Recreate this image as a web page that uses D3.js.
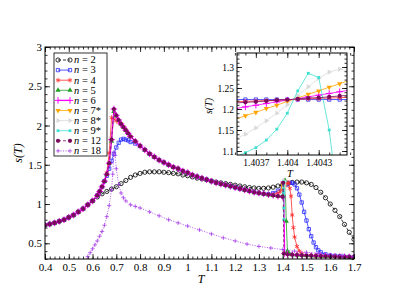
<!DOCTYPE html>
<html>
<head>
<meta charset="utf-8">
<script src="https://cdn.jsdelivr.net/npm/d3@7"></script>
<style>
  body { margin: 0; background: #fff; }
  svg text { font-family: "Liberation Serif", "Times New Roman", "DejaVu Serif", serif; }
</style>
</head>
<body>
<script>
//! CONSTS
const WIDTH = 399
const HEIGHT = 308
const FONT = '"Liberation Serif", "Times New Roman", "DejaVu Serif", serif'

//! DATA
const LOW_BRANCH = [[0.40,0.73],[0.42,0.745],[0.44,0.76],[0.46,0.78],[0.48,0.80],[0.50,0.83],[0.52,0.86],
  [0.54,0.90],[0.56,0.94],[0.58,0.99],[0.60,1.04],[0.62,1.11],[0.63,1.16],[0.64,1.22],[0.65,1.29]];
const HIGH_EARLY = [[0.72,2.02],[0.73,1.98],[0.74,1.94],[0.75,1.90],[0.76,1.86],[0.78,1.80],[0.80,1.74]];
const HIGH_BRANCH = [[0.82,1.69],[0.84,1.64],[0.86,1.60],[0.88,1.56],[0.90,1.53],[0.92,1.50],[0.94,1.47],
  [0.96,1.45],[0.98,1.42],[1.00,1.40],[1.02,1.37],[1.04,1.35],[1.06,1.33],[1.08,1.31],[1.10,1.29],
  [1.12,1.27],[1.14,1.255],[1.16,1.24],[1.18,1.225],[1.20,1.21],[1.22,1.195],[1.24,1.18],[1.26,1.165],
  [1.28,1.15],[1.30,1.14],[1.32,1.13]];
const TAIL = [[1.50,0.345],[1.52,0.343],[1.54,0.34],[1.56,0.338],[1.58,0.336],[1.60,0.334],[1.62,0.332],
  [1.64,0.33],[1.66,0.328],[1.68,0.326],[1.70,0.324]];

const N2 = [[0.40,0.73],[0.42,0.745],[0.44,0.76],[0.46,0.78],[0.48,0.80],[0.50,0.83],[0.52,0.86],[0.54,0.90],
  [0.56,0.94],[0.58,0.99],[0.60,1.04],[0.62,1.09],[0.64,1.13],[0.66,1.16],[0.68,1.19],[0.70,1.22],[0.72,1.26],
  [0.74,1.30],[0.76,1.34],[0.78,1.37],[0.80,1.39],[0.82,1.405],[0.84,1.41],[0.86,1.41],[0.88,1.41],[0.90,1.405],
  [0.92,1.40],[0.94,1.39],[0.96,1.385],[0.98,1.37],[1.00,1.36],[1.02,1.345],[1.04,1.33],[1.06,1.32],[1.08,1.31],
  [1.10,1.295],[1.12,1.28],[1.14,1.27],[1.16,1.26],[1.18,1.25],[1.20,1.24],[1.22,1.23],[1.24,1.22],[1.26,1.21],
  [1.28,1.205],[1.30,1.20],[1.32,1.20],[1.34,1.205],[1.36,1.215],[1.38,1.23],[1.40,1.245],[1.42,1.26],
  [1.44,1.275],[1.46,1.28],[1.48,1.28],[1.50,1.27],[1.52,1.25],[1.54,1.21],[1.56,1.15],[1.58,1.08],[1.60,1.00],
  [1.62,0.92],[1.64,0.84],[1.66,0.74],[1.68,0.64],[1.70,0.55]];
const N3 = [...LOW_BRANCH, [0.66,1.36],[0.67,1.45],[0.68,1.55],[0.69,1.64],[0.70,1.72],[0.71,1.78],[0.72,1.82],
  [0.73,1.83],[0.74,1.82],[0.75,1.81],[0.76,1.79],[0.78,1.77],[0.80,1.74], ...HIGH_BRANCH,
  [1.34,1.125],[1.36,1.14],[1.38,1.17],[1.40,1.21],[1.42,1.25],[1.43,1.27],[1.44,1.27],[1.45,1.25],[1.46,1.20],
  [1.47,1.12],[1.48,1.02],[1.49,0.90],[1.50,0.79],[1.51,0.68],[1.52,0.59],[1.53,0.51],[1.54,0.45],[1.55,0.41],
  [1.56,0.385],[1.58,0.36],[1.60,0.345],[1.62,0.34],[1.64,0.335],[1.66,0.33],[1.68,0.328],[1.70,0.325]];
const N4 = [...LOW_BRANCH, [0.66,1.40],[0.67,1.65],[0.68,2.10],[0.69,2.08],[0.70,2.06],[0.71,2.04],
  ...HIGH_EARLY, ...HIGH_BRANCH, [1.34,1.12],[1.36,1.12],[1.38,1.14],[1.39,1.16],[1.40,1.19],[1.41,1.23],
  [1.42,1.27],[1.425,1.27],[1.43,1.20],[1.435,1.10],[1.44,0.86],[1.445,0.70],[1.45,0.58],[1.46,0.46],
  [1.47,0.40],[1.48,0.37], ...TAIL];
const N5 = [...LOW_BRANCH, [0.66,1.38],[0.67,1.52],[0.68,1.80],[0.69,2.18],[0.70,2.12],[0.71,2.07],
  ...HIGH_EARLY, ...HIGH_BRANCH, [1.34,1.12],[1.36,1.11],[1.38,1.10],[1.40,1.11],[1.405,1.20],[1.41,1.30],
  [1.415,0.78],[1.42,0.40],[1.43,0.36],[1.44,0.355],[1.46,0.352],[1.48,0.348], ...TAIL];
const N6 = [...LOW_BRANCH, [0.66,1.38],[0.67,1.52],[0.68,1.82],[0.69,2.21],[0.70,2.13],[0.71,2.07],
  ...HIGH_EARLY, ...HIGH_BRANCH, [1.34,1.12],[1.36,1.11],[1.38,1.10],[1.40,1.09],[1.404,1.28],[1.408,0.37],
  [1.42,0.36],[1.44,0.355],[1.46,0.352],[1.48,0.348], ...TAIL];
const N12 = [...LOW_BRANCH, [0.66,1.38],[0.67,1.52],[0.68,1.82],[0.69,2.21],[0.70,2.13],[0.71,2.07],
  ...HIGH_EARLY, ...HIGH_BRANCH, [1.34,1.12],[1.36,1.11],[1.38,1.10],[1.40,1.09],[1.402,1.27],[1.405,0.37],
  [1.42,0.36],[1.44,0.355],[1.46,0.352],[1.48,0.348], ...TAIL];
const N18 = [[0.57,0.27],[0.58,0.33],[0.59,0.38],[0.60,0.43],[0.61,0.48],[0.62,0.53],[0.63,0.59],[0.64,0.65],
  [0.65,0.73],[0.66,0.84],[0.67,0.98],[0.68,1.18],[0.685,1.38],[0.69,1.66],[0.695,1.62],[0.70,1.45],[0.71,1.25],
  [0.72,1.14],[0.73,1.08],[0.74,1.04],[0.76,0.99],[0.78,0.97],[0.80,0.95],[0.84,0.90],[0.88,0.85],[0.92,0.80],
  [0.96,0.76],[1.00,0.72],[1.05,0.67],[1.10,0.62],[1.15,0.57],[1.20,0.53],[1.25,0.49],[1.30,0.46],[1.35,0.44],
  [1.40,0.42],[1.45,0.40],[1.50,0.385],[1.55,0.37],[1.60,0.355],[1.65,0.345],[1.70,0.33]];

// inset, T close to 1.404
const T_INSET = [1.4035,1.4036,1.4037,1.4038,1.4039,1.4040,1.4041,1.4042,1.4043,1.4044,1.4045,1.4046];
const INSET_N3 = [1.2225,1.2225,1.2225,1.2225,1.2225,1.2225,1.2225,1.2225,1.2225,1.2225,1.2225,1.2225];
const INSET_N4 = [1.217,1.218,1.219,1.220,1.221,1.222,1.223,1.224,1.225,1.226,1.227,1.228];
const INSET_N6 = [1.201,1.205,1.209,1.213,1.217,1.221,1.225,1.229,1.233,1.237,1.241,1.245];
const INSET_N7 = [1.175,1.184,1.192,1.201,1.209,1.218,1.226,1.235,1.243,1.252,1.260,1.269];
const INSET_N8 = [1.128,1.140,1.155,1.172,1.190,1.210,1.232,1.253,1.273,1.288,1.295,1.290];
const INSET_N9 = [1.085,1.096,1.108,1.126,1.152,1.190,1.243,1.285,1.275,1.150,0.950,0.800];
const INSET_N12 = [1.214,1.216,1.217,1.219,1.221,1.222,1.224,1.226,1.227,1.229,1.231,1.233];

const X_TICKS = [0.4,0.5,0.6,0.7,0.8,0.9,1,1.1,1.2,1.3,1.4,1.5,1.6,1.7];
const Y_TICKS = [0.5,1,1.5,2,2.5,3];
const INSET_X_TICKS = [1.4037,1.404,1.4043];
const INSET_Y_TICKS = [1.1,1.15,1.2,1.25,1.3];

//! SERIES STYLE
const SERIES = [
  { label: '2', data: N2, color: '#000000', dash: '3,2', sym: 'circleOpen' },
  { label: '3', data: N3, color: '#2a2aff', dash: null, sym: 'squareOpen', inset: INSET_N3 },
  { label: '4', data: N4, color: '#ff3030', dash: null, sym: 'asterisk', inset: INSET_N4 },
  { label: '5', data: N5, color: '#22a022', dash: null, sym: 'triUp' },
  { label: '6', data: N6, color: '#ff00ff', dash: null, sym: 'plus', width: 1.3, inset: INSET_N6 },
  { label: '7*', data: null, color: '#ffa500', dash: null, sym: 'triDown', inset: INSET_N7 },
  { label: '8*', data: null, color: '#dadada', dash: null, sym: 'triRight', inset: INSET_N8 },
  { label: '9*', data: null, color: '#40e0d0', dash: null, sym: 'square', inset: INSET_N9 },
  { label: '12', data: N12, color: '#7a0a5c', dash: '3,2', sym: 'dot', inset: INSET_N12 },
  { label: '18', data: N18, color: '#a030e6', dash: '1,1.5', sym: 'smallPlus' }
];

function drawMarker(g, kind, color, x, y) {
  const s = d3.symbol();
  let p, rot = 0;
  if (kind === 'circleOpen') p = g.append('path').attr('d', s.type(d3.symbolCircle).size(14)).attr('fill', 'none').attr('stroke', color).attr('stroke-width', 0.8);
  else if (kind === 'squareOpen') p = g.append('path').attr('d', s.type(d3.symbolSquare).size(11)).attr('fill', 'none').attr('stroke', color).attr('stroke-width', 0.8);
  else if (kind === 'asterisk') p = g.append('path').attr('d', s.type(d3.symbolAsterisk).size(16)).attr('fill', 'none').attr('stroke', color).attr('stroke-width', 0.8);
  else if (kind === 'triUp') p = g.append('path').attr('d', s.type(d3.symbolTriangle).size(12)).attr('fill', color);
  else if (kind === 'triDown') { p = g.append('path').attr('d', s.type(d3.symbolTriangle).size(12)).attr('fill', color); rot = 180 }
  else if (kind === 'triRight') { p = g.append('path').attr('d', s.type(d3.symbolTriangle).size(12)).attr('fill', color); rot = 90 }
  else if (kind === 'plus') p = g.append('path').attr('d', s.type(d3.symbolPlus).size(16)).attr('fill', 'none').attr('stroke', color).attr('stroke-width', 1);
  else if (kind === 'square') p = g.append('path').attr('d', s.type(d3.symbolSquare).size(8)).attr('fill', color);
  else if (kind === 'dot') p = g.append('path').attr('d', s.type(d3.symbolCircle).size(14)).attr('fill', color);
  else p = g.append('path').attr('d', s.type(d3.symbolPlus).size(7)).attr('fill', 'none').attr('stroke', color).attr('stroke-width', 0.7);
  p.attr('transform', `translate(${x},${y}) rotate(${rot})`);
}

function plotSeries(g, pts, sr, x, y) {
  const line = d3.line().x(d => x(d[0])).y(d => y(d[1]));
  g.append('path')
    .datum(pts)
    .attr('d', line)
    .attr('fill', 'none')
    .attr('stroke', sr.color)
    .attr('stroke-width', sr.width || 0.8)
    .attr('stroke-dasharray', sr.dash);
  pts.forEach(d => drawMarker(g, sr.sym, sr.color, x(d[0]), y(d[1])));
}

function frameAxes(g, x, y, xTicks, yTicks, xMinor, yMinor, xFmt, yFmt, fs) {
  const [x0, x1] = x.range(), [y0, y1] = y.range();
  const add = (axis, tr) => {
    const a = g.append('g').attr('transform', tr).call(axis).attr('font-family', FONT);
    a.select('.domain').remove();
    a.selectAll('line').attr('stroke', '#000').attr('stroke-width', 0.8);
    a.selectAll('text').attr('font-size', fs).attr('fill', '#000').attr('font-family', FONT);
    return a;
  };
  add(d3.axisBottom(x).tickValues(xMinor).tickSize(-2.5).tickFormat(''), `translate(0,${y0})`);
  add(d3.axisTop(x).tickValues(xMinor).tickSize(-2.5).tickFormat(''), `translate(0,${y1})`);
  add(d3.axisBottom(x).tickValues(xTicks).tickSize(-5).tickPadding(4).tickFormat(xFmt), `translate(0,${y0})`);
  add(d3.axisTop(x).tickValues(xTicks).tickSize(-5).tickFormat(''), `translate(0,${y1})`);
  add(d3.axisLeft(y).tickValues(yMinor).tickSize(-2.5).tickFormat(''), `translate(${x0},0)`);
  add(d3.axisRight(y).tickValues(yMinor).tickSize(-2.5).tickFormat(''), `translate(${x1},0)`);
  add(d3.axisLeft(y).tickValues(yTicks).tickSize(-5).tickPadding(3).tickFormat(yFmt), `translate(${x0},0)`);
  add(d3.axisRight(y).tickValues(yTicks).tickSize(-5).tickFormat(''), `translate(${x1},0)`);
  g.append('rect').attr('x', x0).attr('y', y1).attr('width', x1 - x0).attr('height', y0 - y1)
    .attr('fill', 'none').attr('stroke', '#000').attr('stroke-width', 1);
}

//! SVG
const svg = d3.select('body').append('svg').attr('width', WIDTH).attr('height', HEIGHT)
  .attr('font-family', FONT);
svg.append('rect').attr('width', WIDTH).attr('height', HEIGHT).attr('fill', '#fff');

//! MAIN PLOT
const x = d3.scaleLinear().domain([0.4, 1.7]).range([45, 354]);
const y = d3.scaleLinear().domain([0.3, 3]).range([259, 47]);

svg.append('clipPath').attr('id', 'clipMain').append('rect')
  .attr('x', 45).attr('y', 47).attr('width', 309).attr('height', 212);
const main = svg.append('g').attr('clip-path', 'url(#clipMain)');

SERIES.forEach(sr => {
  const pts = sr.data ? sr.data : T_INSET.map((t, i) => [t, sr.inset[i]]);
  plotSeries(main, pts, sr, x, y);
});

const fmt1 = d => d3.format('.1f')(d).replace(/\.0$/, '');
frameAxes(svg, x, y, X_TICKS, Y_TICKS,
  d3.range(0.4, 1.7001, 0.02), d3.range(0.3, 3.0001, 0.1), fmt1, fmt1, 11);

svg.append('text').attr('x', 201).attr('y', 283).attr('text-anchor', 'middle')
  .attr('font-size', 12).attr('font-style', 'italic').text('T');
svg.append('text').attr('transform', 'translate(22,153) rotate(-90)').attr('text-anchor', 'middle')
  .attr('font-size', 12).attr('font-style', 'italic').text('s(T)');

//! LEGEND
const leg = svg.append('g');
leg.append('rect').attr('x', 54).attr('y', 53).attr('width', 53).attr('height', 103)
  .attr('fill', '#fff').attr('stroke', '#000').attr('stroke-width', 0.8);
SERIES.forEach((sr, i) => {
  const ly = 60 + i * 10.1;
  leg.append('line').attr('x1', 58).attr('x2', 70).attr('y1', ly).attr('y2', ly)
    .attr('stroke', sr.color).attr('stroke-width', sr.width || 0.8).attr('stroke-dasharray', sr.dash);
  drawMarker(leg, sr.sym, sr.color, 58, ly);
  drawMarker(leg, sr.sym, sr.color, 70, ly);
  const t = leg.append('text').attr('x', 74).attr('y', ly + 3.3).attr('font-size', 10.5);
  t.append('tspan').attr('font-style', 'italic').text('n');
  t.append('tspan').text(' = ' + sr.label);
});

//! INSET
const xi = d3.scaleLinear().domain([1.40352, 1.40457]).range([237, 347]);
const yi = d3.scaleLinear().domain([1.0905, 1.3333]).range([155, 53]);
svg.append('rect').attr('x', 237).attr('y', 53).attr('width', 110).attr('height', 102).attr('fill', '#fff');
svg.append('clipPath').attr('id', 'clipInset').append('rect')
  .attr('x', 237).attr('y', 53).attr('width', 110).attr('height', 102);
const inset = svg.append('g').attr('clip-path', 'url(#clipInset)');
SERIES.filter(sr => sr.inset).forEach(sr => {
  const isr = Object.assign({}, sr, { dash: null, width: 0.8 });
  plotSeries(inset, T_INSET.map((t, i) => [t, sr.inset[i]]), isr, xi, yi);
});
frameAxes(svg, xi, yi, INSET_X_TICKS, INSET_Y_TICKS,
  d3.range(1.4035, 1.40461, 0.0001), d3.range(1.1, 1.3301, 0.01),
  d => d3.format('')(+d.toFixed(4)), d => d3.format('')(+d.toFixed(2)), 9.5);
svg.append('text').attr('x', 290).attr('y', 176.5).attr('text-anchor', 'middle')
  .attr('font-size', 10.5).attr('font-style', 'italic').text('T');
svg.append('text').attr('transform', 'translate(212,106) rotate(-90)').attr('text-anchor', 'middle')
  .attr('font-size', 10).attr('font-style', 'italic').text('s(T)');
</script>
</body>
</html>
